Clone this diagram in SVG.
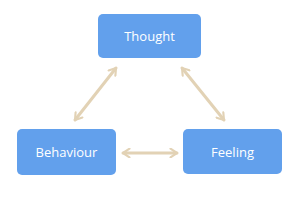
<svg xmlns="http://www.w3.org/2000/svg" width="300" height="200" viewBox="0 0 300 200">
<style>
.box{fill:#62a0ec}
.lbl{fill:#fff;font-family:"Open Sans",Lato,sans-serif;font-size:13px;text-anchor:middle;dominant-baseline:central}
.con{stroke:#e2d2b5;stroke-width:3;fill:none;stroke-linecap:round}
</style>
<defs>
<marker id="ah" viewBox="0 0 10 10" refX="8" refY="5" markerWidth="3.6" markerHeight="3.6" orient="auto-start-reverse" markerUnits="strokeWidth">
<polyline points="2,1 8,5 2,9" fill="none" stroke="#e2d2b5" stroke-width="2" stroke-linecap="round" stroke-linejoin="round"/>
</marker>
</defs>
<rect width="300" height="200" fill="#fff"/>
<g id="connectors">
<line class="con" x1="116" y1="68" x2="75" y2="120" marker-start="url(#ah)" marker-end="url(#ah)"/>
<line class="con" x1="182" y1="68" x2="224" y2="120" marker-start="url(#ah)" marker-end="url(#ah)"/>
<line class="con" x1="123" y1="153" x2="177" y2="153" marker-start="url(#ah)" marker-end="url(#ah)"/>
</g>
<g id="thought"><rect class="box" x="98" y="14" width="103" height="44" rx="5"/><text class="lbl" x="149.5" y="36">Thought</text></g>
<g id="behaviour"><rect class="box" x="17" y="129" width="99" height="46" rx="5"/><text class="lbl" x="66.5" y="152">Behaviour</text></g>
<g id="feeling"><rect class="box" x="183" y="129" width="99" height="45" rx="5"/><text class="lbl" x="232.5" y="151.5">Feeling</text></g>
</svg>
